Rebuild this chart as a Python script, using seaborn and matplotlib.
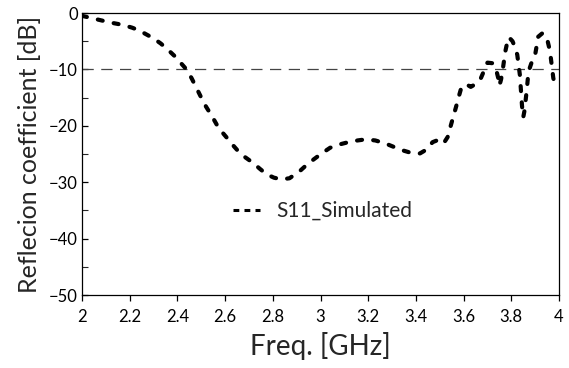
import matplotlib
matplotlib.use("Agg")
import matplotlib.pyplot as plt
import seaborn as sns
import pandas as pd
from matplotlib.ticker import MultipleLocator

freq = [2.00, 2.03, 2.07, 2.12, 2.17, 2.21, 2.24, 2.27, 2.30, 2.33, 2.36, 2.39,
        2.415, 2.44, 2.46, 2.48, 2.50, 2.52, 2.545, 2.565, 2.585, 2.607, 2.63,
        2.655, 2.685, 2.718, 2.745, 2.774, 2.805, 2.837, 2.87, 2.914, 2.94, 2.97,
        3.005, 3.04, 3.08, 3.117, 3.155, 3.19, 3.23, 3.27, 3.305, 3.34, 3.38,
        3.417, 3.445, 3.47, 3.50, 3.518, 3.533, 3.546, 3.558, 3.568, 3.58, 3.59,
        3.61, 3.63, 3.65, 3.67, 3.685, 3.70, 3.72, 3.736, 3.745, 3.75, 3.757,
        3.764, 3.775, 3.785, 3.79, 3.805, 3.815, 3.825, 3.836, 3.845, 3.85, 3.855,
        3.865, 3.872, 3.885, 3.90, 3.913, 3.93, 3.948, 3.958, 3.965, 3.976, 3.98]
s11 = [-0.5, -0.8, -1.2, -1.7, -2.1, -2.6, -3.1, -3.8, -4.5, -5.4, -6.5, -7.7,
       -8.9, -10.1, -11.6, -13.3, -15.0, -16.6, -18.3, -19.8, -21.0, -22.1, -23.3,
       -24.5, -25.6, -26.6, -27.6, -28.6, -29.2, -29.5, -29.3, -28.0, -27.0, -26.0,
       -24.9, -23.9, -23.3, -22.9, -22.6, -22.4, -22.6, -23.1, -23.7, -24.3, -24.8,
       -24.9, -24.2, -22.9, -22.4, -23.0, -22.0, -20.0, -18.2, -16.7, -14.8, -13.3,
       -12.6, -13.1, -12.6, -11.8, -10.3, -8.8, -8.9, -9.95, -11.5, -12.9, -11.8,
       -10.1, -6.8, -4.8, -4.3, -5.0, -6.0, -7.4, -11.0, -16.5, -18.5, -17.4,
       -13.6, -10.4, -8.8, -7.4, -4.2, -3.6, -4.2, -6.0, -7.7, -11.5, -12.3]
yticks = [0, -10, -20, -30, -40, -50]
xticks = [2, 2.2, 2.4, 2.6, 2.8, 3, 3.2, 3.4, 3.6, 3.8, 4]
xtick_labels = ["2", "2.2", "2.4", "2.6", "2.8", "3", "3.2", "3.4", "3.6", "3.8", "4"]
series_name = "S11_Simulated"
threshold = -10

df = pd.DataFrame({"Freq": freq, "S11": s11, "series": series_name})

sns.set_theme(style="white")
plt.rcParams["font.family"] = ["Lato", "DejaVu Sans"]

fig = plt.figure(figsize=(5.69, 3.68), dpi=100)
ax = fig.add_axes([82/569, 1 - 295/368, (559-82)/569, (295-13)/368])

ax.axhline(threshold, color="#444444", lw=0.9, dashes=(9, 6), zorder=1)
sns.lineplot(data=df, x="Freq", y="S11", hue="series", palette=["black"],
             ax=ax, lw=3.0, zorder=3, legend=False,
             linestyle=(0, (1.2, 2.7)), dash_capstyle="round")

ax.set_xlim(2, 4)
ax.set_ylim(-50, 0)
ax.set_xticks(xticks)
ax.set_xticklabels(xtick_labels)
ax.set_yticks(yticks)
ax.yaxis.set_minor_locator(MultipleLocator(5))
ax.tick_params(axis="x", direction="out", length=4, width=0.9, colors="black",
               labelsize=12, pad=6, bottom=True)
ax.tick_params(axis="y", which="major", direction="in", length=4, width=0.9,
               labelsize=12, pad=3, left=True, colors="black")
ax.tick_params(axis="y", which="minor", direction="in", length=4, width=0.8, left=True)
for sp in ax.spines.values():
    sp.set_color("black")
    sp.set_linewidth(0.9)

ax.set_xlabel("Freq. [GHz]", fontsize=20, labelpad=5)
ax.set_ylabel("Reflecion coefficient [dB]", fontsize=18, labelpad=6)

from matplotlib.lines import Line2D
handle = Line2D([], [], color="black", lw=2.2, linestyle=(0, (1.9, 1.7)))
ax.legend([handle], [series_name], loc="center left",
          bbox_to_anchor=(0.317, 0.298), frameon=False, fontsize=15,
          handlelength=1.3, handletextpad=0.75, borderpad=0, borderaxespad=0)

fig.savefig("out.png", dpi=100)
